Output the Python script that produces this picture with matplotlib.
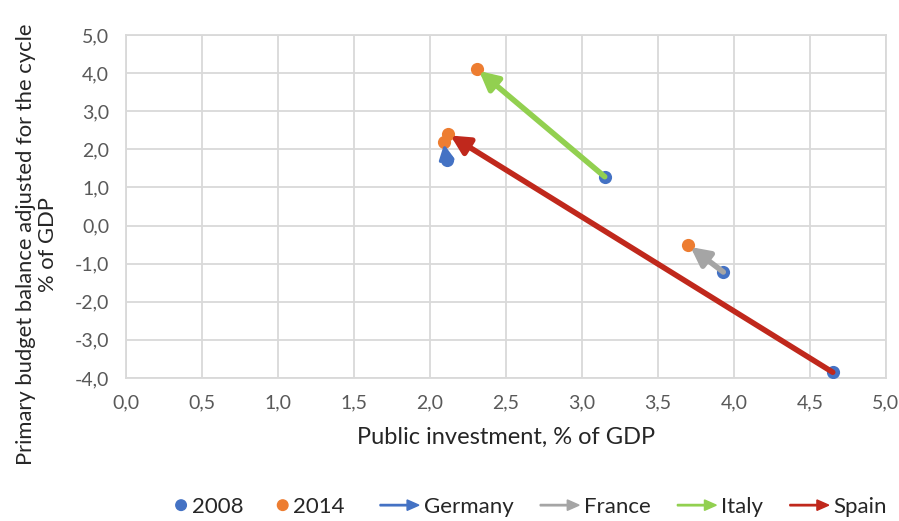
import matplotlib
matplotlib.use("Agg")
import matplotlib.pyplot as plt
import matplotlib.patches as mpatches
from matplotlib.legend_handler import HandlerPatch
from matplotlib.ticker import FuncFormatter

plt.rcParams['font.family'] = ['Lato', 'DejaVu Sans']

countries = ["Germany", "France", "Italy", "Spain"]
invest_2008 = [2.11, 3.93, 3.15, 4.65]
balance_2008 = [1.72, -1.22, 1.28, -3.85]
invest_2014 = [2.09, 3.70, 2.31, 2.12]
balance_2014 = [2.20, -0.52, 4.10, 2.40]
arrow_colors = ["#4472C4", "#A5A5A5", "#92D050", "#C0281C"]
arrow_widths = [2.5, 4.0, 4.0, 4.0]
head_scales = [16, 20, 20, 20]
year_colors = {"2008": "#4472C4", "2014": "#ED7D31"}

x_ticks = [0.0, 0.5, 1.0, 1.5, 2.0, 2.5, 3.0, 3.5, 4.0, 4.5, 5.0]
y_ticks = [-4.0, -3.0, -2.0, -1.0, 0.0, 1.0, 2.0, 3.0, 4.0, 5.0]

fig = plt.figure(figsize=(8.99, 5.21), dpi=100)
ax = fig.add_axes([0.140, 0.2745, 0.8455, 0.6585])

grid_c = "#D9D9D9"
ax.set_xlim(x_ticks[0], x_ticks[-1])
ax.set_ylim(y_ticks[0], y_ticks[-1])
ax.set_xticks(x_ticks)
ax.set_yticks(y_ticks)
comma = FuncFormatter(lambda v, p: f"{v:.1f}".replace(".", ","))
ax.xaxis.set_major_formatter(comma)
ax.yaxis.set_major_formatter(comma)
ax.grid(True, color=grid_c, lw=1.3)
ax.set_axisbelow(True)
for s in ax.spines.values():
    s.set_color(grid_c)
    s.set_linewidth(1.3)
ax.tick_params(length=0, labelsize=14, colors="#595959")
ax.tick_params(axis="x", pad=12)
ax.tick_params(axis="y", pad=12)

# Markers for both years
ax.scatter(invest_2008, balance_2008, s=90, color=year_colors["2008"], zorder=3, linewidths=0)
ax.scatter(invest_2014, balance_2014, s=90, color=year_colors["2014"], zorder=3, linewidths=0)

# Movement from 2008 to 2014 for each country
for i, c in enumerate(countries):
    ax.annotate("", xy=(invest_2014[i], balance_2014[i]),
                xytext=(invest_2008[i], balance_2008[i]),
                arrowprops=dict(arrowstyle="-|>,head_length=0.55,head_width=0.28",
                                color=arrow_colors[i], lw=arrow_widths[i],
                                mutation_scale=head_scales[i], shrinkA=0, shrinkB=2),
                zorder=4)

ax.set_xlabel("Public investment, % of GDP", fontsize=17, color="#262626", labelpad=11)
ax.set_ylabel("Primary budget balance adjusted for the cycle\n% of GDP",
              fontsize=15.8, color="#262626", linespacing=1.15)
ax.yaxis.set_label_coords(-0.089, 0.39)


def make_arrow(legend, orig_handle, xdescent, ydescent, width, height, fontsize):
    return mpatches.FancyArrow(0, height / 2 - ydescent, width, 0, width=1.0,
                               length_includes_head=True, head_width=7.5,
                               head_length=8.5)


def make_dot(legend, orig_handle, xdescent, ydescent, width, height, fontsize):
    return mpatches.Circle((width - 4.5, height / 2 - ydescent), 3.8)


year_handles = [mpatches.Circle((0, 0), 1, color=col) for col in year_colors.values()]
country_handles = [mpatches.FancyArrow(0, 0, 1, 0, color=col) for col in arrow_colors]

fig.legend(year_handles, list(year_colors.keys()), loc="center left",
           bbox_to_anchor=(174 / 899, 0.027), ncol=2, frameon=False,
           fontsize=16, handlelength=0.6, handletextpad=0.2,
           columnspacing=1.45, borderpad=0, borderaxespad=0,
           labelcolor="#262626",
           handler_map={mpatches.Circle: HandlerPatch(patch_func=make_dot)})
fig.legend(country_handles, countries, loc="center left",
           bbox_to_anchor=(380 / 899, 0.027), ncol=4, frameon=False,
           fontsize=16, handlelength=1.75, handletextpad=0.22,
           columnspacing=1.2, borderpad=0, borderaxespad=0,
           labelcolor="#262626",
           handler_map={mpatches.FancyArrow: HandlerPatch(patch_func=make_arrow)})

fig.savefig("out.png", dpi=100)
